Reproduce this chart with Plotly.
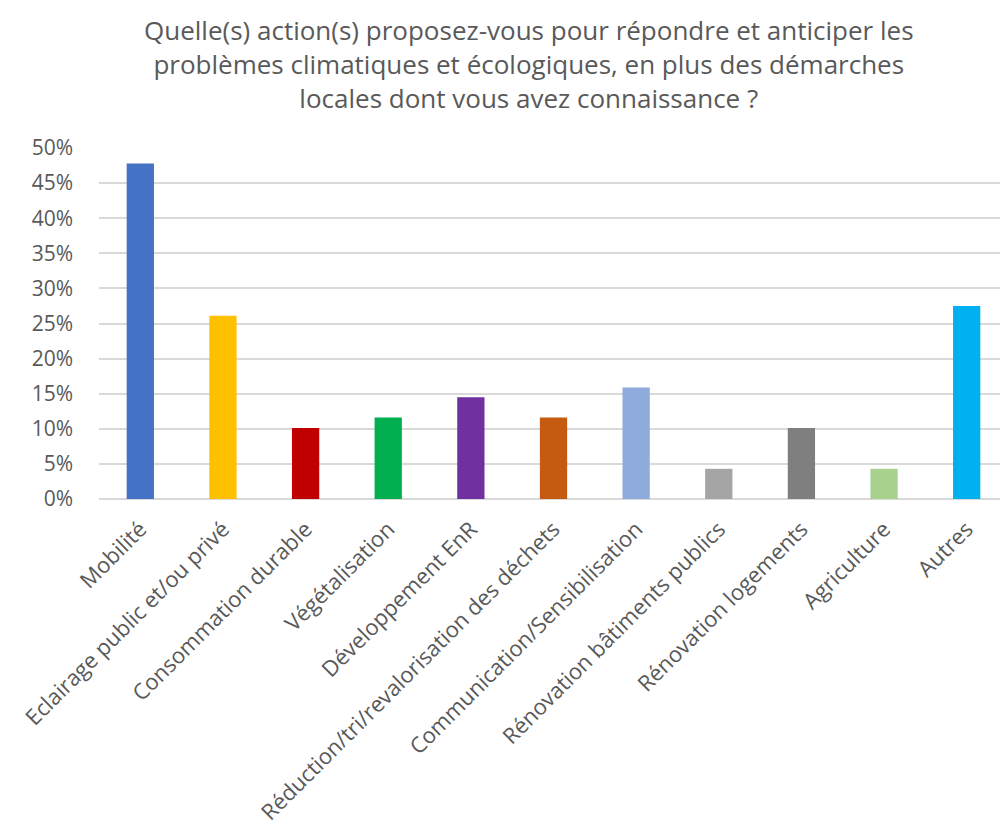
import plotly.graph_objects as go

categories = ["Mobilité", "Eclairage public et/ou privé", "Consommation durable",
              "Végétalisation", "Développement EnR", "Réduction/tri/revalorisation des déchets",
              "Communication/Sensibilisation", "Rénovation bâtiments publics",
              "Rénovation logements", "Agriculture", "Autres"]
values = [0.478, 0.261, 0.101, 0.116, 0.145, 0.116, 0.159, 0.043, 0.101, 0.043, 0.275]
colors = ["#4472C4", "#FFC000", "#C00000", "#00B050", "#7030A0", "#C55A11",
          "#8FAADC", "#A5A5A5", "#7F7F7F", "#A9D18E", "#00B0F0"]
tick_vals = [0, 0.05, 0.10, 0.15, 0.20, 0.25, 0.30, 0.35, 0.40, 0.45, 0.50]
tick_text = ["0%", "5%", "10%", "15%", "20%", "25%", "30%", "35%", "40%", "45%", "50%"]
title = ("Quelle(s) action(s) proposez-vous pour répondre et anticiper les<br>"
         "problèmes climatiques et écologiques, en plus des démarches<br>"
         "locales dont vous avez connaissance ?")

FONT = "'Open Sans', Lato, sans-serif"
GRAY = "#595959"

fig = go.Figure(go.Bar(x=categories, y=values, marker_color=colors, width=0.33,
                       marker_line_width=0))
fig.update_layout(
    width=1000, height=827,
    margin=dict(l=91, r=0, t=140, b=336),
    paper_bgcolor="white", plot_bgcolor="white",
    font=dict(family=FONT, color=GRAY),
    showlegend=False,
)
fig.add_annotation(text=title, xref="paper", yref="paper", x=(521 - 91) / 909,
                   y=1.0 + 138 / 351, xanchor="center", yanchor="top",
                   showarrow=False, align="center",
                   font=dict(size=26, color=GRAY, family=FONT))
fig.update_xaxes(tickangle=-45, tickfont=dict(size=22, color=GRAY, family=FONT),
                 showgrid=False, showline=False, ticks="", automargin=False,
                 ticklabelstandoff=12)
fig.update_yaxes(range=[0, 0.5], tickvals=tick_vals, ticktext=tick_text,
                 tickfont=dict(size=21, color=GRAY, family=FONT),
                 showgrid=True, gridcolor="#D9D9D9", gridwidth=1.5,
                 zeroline=True, zerolinecolor="#D9D9D9", zerolinewidth=1.5,
                 ticklabelstandoff=25, automargin=False)
fig.write_html("out.html")
